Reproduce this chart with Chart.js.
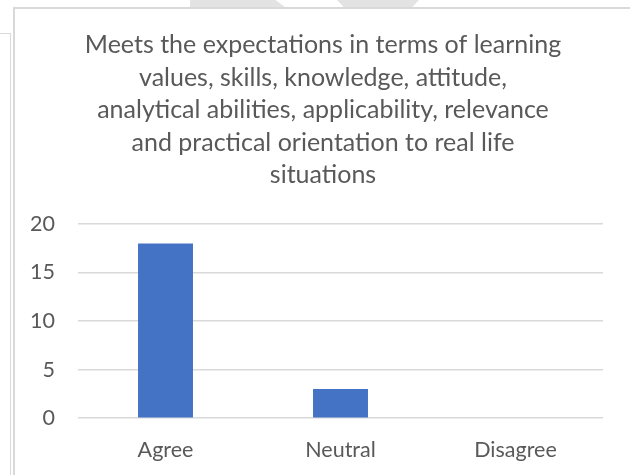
<!DOCTYPE html>
<html>
<head>
<meta charset="utf-8">
<script src="https://cdn.jsdelivr.net/npm/chart.js@4.4.0/dist/chart.umd.min.js"></script>
<style>
  html, body { margin: 0; padding: 0; background: #ffffff; }
  #wrap { position: relative; width: 630px; height: 475px; overflow: hidden; background: #fff; }
  #c { position: absolute; left: 0; top: 0; width: 630px; height: 475px; }
  .ln { position: absolute; background: #d9d9d9; }
  .wm { position: absolute; background: #e3e3e3; }
</style>
</head>
<body>
<div id="wrap">
  <div class="wm" style="left:190px;top:0;width:95px;height:7px;clip-path:polygon(0 0,90% 0,100% 100%,0 100%);"></div>
  <div class="wm" style="left:337px;top:0;width:82px;height:7px;clip-path:polygon(0 0,100% 0,92% 100%,8% 100%);"></div>
  <div class="ln" style="left:13px;top:7px;width:617px;height:2px;"></div>
  <div class="ln" style="left:13px;top:7px;width:2px;height:468px;"></div>
  <div class="ln" style="left:0;top:33px;width:11px;height:1px;"></div>
  <div class="ln" style="left:10px;top:33px;width:1px;height:442px;"></div>
  <canvas id="c" width="630" height="475"></canvas>
</div>
<script>
const titleLines = [
  "Meets the expectations in terms of learning",
  "values, skills, knowledge, attitude,",
  "analytical abilities, applicability, relevance",
  "and practical orientation to real life",
  "situations"
];
const categories = ["Agree", "Neutral", "Disagree"];
const counts = [18, 3, 0];
const yTicks = [0, 5, 10, 15, 20];

const textColor = "#595959";
const fontFamily = "Lato, 'Open Sans', sans-serif";

// centre the title block as in the reference (slightly left of the plot centre)
const titleShift = {
  id: "titleShift",
  afterLayout(chart) {
    if (chart.titleBlock) { chart.titleBlock.left = 43; }
  }
};

new Chart(document.getElementById("c"), {
  type: "bar",
  data: {
    labels: categories,
    datasets: [{
      data: counts,
      backgroundColor: "#4472C4",
      borderWidth: 0,
      categoryPercentage: 1,
      barPercentage: 0.314
    }]
  },
  plugins: [titleShift],
  options: {
    responsive: false,
    maintainAspectRatio: false,
    animation: false,
    devicePixelRatio: 1,
    layout: { padding: { left: 20, right: 27, top: 29, bottom: -7 } },
    plugins: {
      legend: { display: false },
      tooltip: { enabled: false },
      title: {
        display: true,
        text: titleLines,
        color: textColor,
        font: { family: fontFamily, size: 25, weight: "normal", lineHeight: "32.5px" },
        padding: { top: 0, bottom: 32.5 }
      }
    },
    scales: {
      x: {
        grid: { display: false, drawTicks: false },
        border: { display: false },
        ticks: {
          color: textColor,
          font: { family: fontFamily, size: 21.5 },
          padding: 19
        }
      },
      y: {
        min: yTicks[0],
        max: yTicks[yTicks.length - 1],
        afterBuildTicks: (scale) => { scale.ticks = yTicks.map(v => ({ value: v })); },
        afterFit: (scale) => { scale.width = 58; },
        grid: { color: "#d9d9d9", lineWidth: 1.5, drawTicks: false },
        border: { display: false },
        ticks: {
          color: textColor,
          font: { family: fontFamily, size: 21.5 },
          padding: 23
        }
      }
    }
  }
});
</script>
</body>
</html>
